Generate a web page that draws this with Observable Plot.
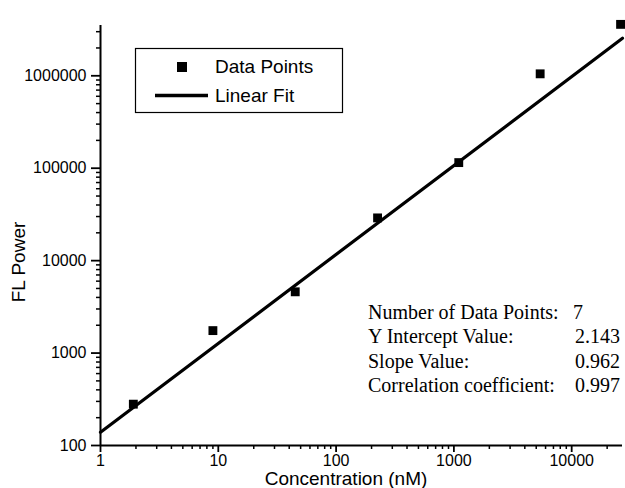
<!DOCTYPE html>
<html>
<head>
<meta charset="utf-8">
<script src="https://cdn.jsdelivr.net/npm/d3@7"></script>
<script src="https://cdn.jsdelivr.net/npm/@observablehq/plot@0.6"></script>
<style>
  html, body { margin: 0; padding: 0; background: #fff; }
  #wrap { position: relative; width: 625px; height: 488px; overflow: hidden; }
</style>
</head>
<body>
<div id="wrap"></div>
<script>
// Data
const concentration = [1.9, 9, 45, 225, 1100, 5400, 26000];
const flPower = [280, 1750, 4600, 29000, 115000, 1050000, 3600000];
const fitIntercept = 2.143; // log10 intercept
const fitSlope = 0.962;
const fitRange = [1, 27000];
const xTickValues = [1, 10, 100, 1000, 10000];
const yTickValues = [100, 1000, 10000, 100000, 1000000];
const legendLabels = ["Data Points", "Linear Fit"];
const statLabels = ["Number of Data Points:", "Y Intercept Value:", "Slope Value:", "Correlation coefficient:"];
const statValues = ["7", "2.143", "0.962", "0.997"];
const xLabel = "Concentration (nM)";
const yLabel = "FL Power";

const points = concentration.map((c, i) => ({x: c, y: flPower[i]}));
const fitLine = fitRange.map(x => ({x, y: Math.pow(10, fitIntercept + fitSlope * Math.log10(x))}));

function minorTicks(lo, hi) {
  const out = [];
  for (let d = lo; d < hi; d *= 10) for (let k = 2; k <= 9; k++) if (d * k <= hi) out.push(d * k);
  return out;
}

const font = "'Liberation Sans', Arial, Helvetica, sans-serif";
const serif = "'Liberation Serif', 'Times New Roman', serif";
const xMinor = minorTicks(1, 27000);
const yMinor = minorTicks(100, 3500000);

const chart = Plot.plot({
  width: 625,
  height: 488,
  marginLeft: 100,
  marginRight: 3,
  marginTop: 25,
  marginBottom: 43,
  style: {fontFamily: font, fontSize: "16px", color: "#000", background: "#fff"},
  x: {type: "log", domain: [1, 27000]},
  y: {type: "log", domain: [100, 3500000]},
  marks: [
    Plot.axisX(xMinor, {tickSize: 4, text: null, label: null, strokeWidth: 1.5}),
    Plot.axisX(xTickValues, {tickSize: 7, tickFormat: d => String(d), strokeWidth: 1.8, fontSize: 16, tickPadding: 2, label: null}),
    Plot.axisY(yMinor, {tickSize: 4, text: null, label: null, strokeWidth: 1.5}),
    Plot.axisY(yTickValues, {tickSize: 9, tickFormat: d => String(d), strokeWidth: 1.8, fontSize: 16, tickPadding: 5, label: null}),
    Plot.ruleX([1], {strokeWidth: 2}),
    Plot.ruleY([100], {strokeWidth: 2}),
    Plot.line(fitLine, {x: "x", y: "y", stroke: "#000", strokeWidth: 3.2}),
    Plot.dot(points, {x: "x", y: "y", symbol: "square", r: 5, fill: "#000", stroke: "none"})
  ]
});

const svg = d3.select(chart);

// axis titles
svg.append("text")
  .attr("x", 346).attr("y", 485)
  .attr("text-anchor", "middle").attr("fill", "#000")
  .attr("font-family", font).attr("font-size", 19)
  .text(xLabel);
svg.append("text")
  .attr("transform", "translate(25,262) rotate(-90)")
  .attr("text-anchor", "middle").attr("fill", "#000")
  .attr("font-family", font).attr("font-size", 19)
  .text(yLabel);

// legend
const lg = svg.append("g").attr("font-family", font).attr("font-size", 19)
  .attr("text-anchor", "start").attr("fill", "#000");
lg.append("rect").attr("x", 135.5).attr("y", 48.5).attr("width", 207).attr("height", 64)
  .attr("fill", "#fff").attr("stroke", "#000").attr("stroke-width", 1.2);
lg.append("rect").attr("x", 177).attr("y", 62).attr("width", 10).attr("height", 10).attr("fill", "#000");
lg.append("line").attr("x1", 155).attr("x2", 208).attr("y1", 95.5).attr("y2", 95.5)
  .attr("stroke", "#000").attr("stroke-width", 3.5);
lg.append("text").attr("x", 215).attr("y", 73).attr("text-anchor", "start").text(legendLabels[0]);
lg.append("text").attr("x", 215).attr("y", 102).attr("text-anchor", "start").text(legendLabels[1]);

// statistics block
const st = svg.append("g").attr("font-family", serif).attr("font-size", 20).attr("fill", "#000");
statLabels.forEach((l, i) => {
  const y = 319 + i * 24.3;
  st.append("text").attr("x", 368).attr("y", y).attr("text-anchor", "start").text(l);
  st.append("text")
    .attr("x", i === 0 ? 573 : 620)
    .attr("text-anchor", i === 0 ? "start" : "end")
    .attr("y", y).text(statValues[i]);
});

document.getElementById("wrap").appendChild(chart);
</script>
</body>
</html>
